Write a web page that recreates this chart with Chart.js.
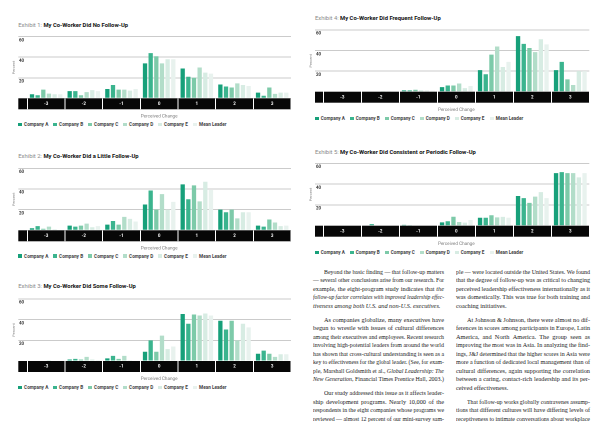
<!DOCTYPE html>
<html><head><meta charset="utf-8">
<script src="https://cdn.jsdelivr.net/npm/chart.js@4.4.1/dist/chart.umd.min.js"></script>
<style>
html,body{margin:0;padding:0;background:#fff;}
body{width:600px;height:424px;position:relative;overflow:hidden;font-family:Roboto,"DejaVu Sans",sans-serif;}
canvas{position:absolute;}
.title{position:absolute;font-size:5.85px;line-height:7px;white-space:nowrap;color:#111;font-weight:700;}
.title .ex{color:#8a8a8a;font-weight:400;}
.legend .it{position:absolute;white-space:nowrap;font-size:4.7px;line-height:6px;height:6px;font-weight:700;color:#444;}
.legend .sw{display:inline-block;width:3.6px;height:3.6px;vertical-align:middle;margin-right:2.2px;position:relative;top:-0.4px;}
.col{position:absolute;font-family:"Liberation Serif",serif;font-size:6.3px;color:#1a1a1a;}
.ln{position:absolute;left:0;display:flex;white-space:nowrap;column-gap:1.5px;transform-origin:0 50%;}
.ln span{display:block;}
.ln .i{font-style:italic;}
</style>
</head><body>
<script>
// ---------- data ----------
const categories = ['-3','-2','-1','0','1','2','3'];
const seriesNames = ['Company A','Company B','Company C','Company D','Company E','Mean Leader'];
const yTicks = [20, 40, 60];

// Exhibit 1: My Co-Worker Did No Follow-Up
const ex1CompanyA   = [4, 7, 9, 34, 29, 13.5, 5.5];
const ex1CompanyB   = [3, 7, 13, 44, 21, 11.5, 2.5];
const ex1CompanyC   = [8.5, 3, 8.5, 41, 20, 10.5, 10.5];
const ex1CompanyD   = [4.5, 6, 8.5, 34, 30, 14.5, 4.3];
const ex1CompanyE   = [4, 8, 7.5, 38, 25, 13, 5.5];
const ex1MeanLeader = [4, 7, 9, 38, 24, 12, 5.5];

// Exhibit 2: My Co-Worker Did a Little Follow-Up
const ex2CompanyA   = [2, 4.5, 5.5, 25, 44.5, 20, 4.5];
const ex2CompanyB   = [4, 3.5, 9, 38.5, 30, 17.5, 3.5];
const ex2CompanyC   = [1.5, 4.5, 5.5, 20, 43.5, 20, 10.5];
const ex2CompanyD   = [3.5, 6.5, 13, 35, 28, 11.5, 7.5];
const ex2CompanyE   = [1, 3, 11, 20, 47, 17.5, 4];
const ex2MeanLeader = [0.5, 4, 8.5, 27.5, 39, 17.5, 4.5];

// Exhibit 3: My Co-Worker Did Some Follow-Up
const ex3CompanyA   = [0, 1.5, 2.5, 9, 45.5, 39, 7];
const ex3CompanyB   = [0, 2, 5, 20, 36, 30.5, 10];
const ex3CompanyC   = [0, 1.5, 2, 9, 45, 39, 7];
const ex3CompanyD   = [0.3, 4, 5, 24.5, 44, 20, 4];
const ex3CompanyE   = [0.5, 1.5, 0.3, 11.5, 46, 36, 6.5];
const ex3MeanLeader = [0.5, 1, 0, 14, 44, 32.5, 6.5];

// Exhibit 4: My Co-Worker Did Frequent Follow-Up
const ex4CompanyA   = [0, 0, 1.3, 4.5, 21, 54, 21];
const ex4CompanyB   = [0, 0, 1.3, 6, 17, 46.5, 29];
const ex4CompanyC   = [0, 0, 1.9, 6, 36, 42.5, 12];
const ex4CompanyD   = [0, 0.5, 1, 8, 44, 38.5, 6.5];
const ex4CompanyE   = [0, 0.5, 1, 3.5, 24, 51, 20];
const ex4MeanLeader = [0, 0, 1, 5.5, 29, 46, 20];

// Exhibit 5: My Co-Worker Did Consistent or Periodic Follow-Up
const ex5CompanyA   = [0, 0, 0.8, 3.2, 7.7, 28.5, 50.5];
const ex5CompanyB   = [0, 1.5, 0.3, 4.3, 7.7, 26.5, 51.5];
const ex5CompanyC   = [0, 0, 0, 8.6, 10, 22, 50.5];
const ex5CompanyD   = [0, 0, 0, 3.5, 8, 28, 50.5];
const ex5CompanyE   = [0, 0, 0, 3, 8.5, 32.3, 46.5];
const ex5MeanLeader = [0, 0, 0, 5.5, 7.7, 26.5, 50.5];

// ---------- styling / layout ----------
const colors = ['#17a07a','#3bb48e','#7dcaa9','#b2ddc9','#d7ece3','#e8f2ee'];
const exhibits = [
  {num:1, title:'My Co-Worker Did No Follow-Up', series:[ex1CompanyA,ex1CompanyB,ex1CompanyC,ex1CompanyD,ex1CompanyE,ex1MeanLeader],
   g:{cx:0, gx:18.3, cl:27.3, cr:291, top:36.7, base:98.3, titleY:25, legY:125, pctX:14, labX:19}},
  {num:2, title:'My Co-Worker Did a Little Follow-Up', series:[ex2CompanyA,ex2CompanyB,ex2CompanyC,ex2CompanyD,ex2CompanyE,ex2MeanLeader],
   g:{cx:0, gx:18.3, cl:27.3, cr:291, top:168.3, base:230.3, titleY:156, legY:256.7, pctX:14, labX:19}},
  {num:3, title:'My Co-Worker Did Some Follow-Up', series:[ex3CompanyA,ex3CompanyB,ex3CompanyC,ex3CompanyD,ex3CompanyE,ex3MeanLeader],
   g:{cx:0, gx:18.3, cl:27.3, cr:291, top:299, base:361, titleY:286, legY:388, pctX:14, labX:19}},
  {num:4, title:'My Co-Worker Did Frequent Follow-Up', series:[ex4CompanyA,ex4CompanyB,ex4CompanyC,ex4CompanyD,ex4CompanyE,ex4MeanLeader],
   g:{cx:300, gx:315, cl:323.3, cr:589.3, top:30, base:91.7, titleY:18.3, legY:119, pctX:311, labX:316}},
  {num:5, title:'My Co-Worker Did Consistent or Periodic Follow-Up', series:[ex5CompanyA,ex5CompanyB,ex5CompanyC,ex5CompanyD,ex5CompanyE,ex5MeanLeader],
   g:{cx:300, gx:315, cl:323.3, cr:589.3, top:163.3, base:225.7, titleY:152.7, legY:253, pctX:311, labX:316}}
];

Chart.defaults.font.family = 'Roboto';

const bandPlugin = {
  id: 'band',
  beforeDraw(chart, args, opts) {
    const {ctx, chartArea: a} = chart;
    ctx.save();
    ctx.fillStyle = '#070707';
    ctx.fillRect(opts.x0, a.bottom, a.right - opts.x0, opts.h);
    ctx.restore();
  }
};

const XH = 20.7;       // x-axis box height (band + axis title)
const BAND = 11;
const TICKFONT = 4.5;

exhibits.forEach(ex => {
  const g = ex.g;
  const W = 300;
  const cTop = Math.floor(g.top - 3);
  const H = Math.ceil(g.base + XH + 1 - cTop);
  const pt = g.top - cTop;
  const pb = cTop + H - g.base - XH;
  const pctLH = 4 * 1.2;
  const pl = g.pctX - g.cx - pctLH / 2;
  const yw = g.cl - g.cx - pl;
  const pr = g.cx + W - g.cr;

  const t = document.createElement('div');
  t.className = 'title';
  t.style.left = g.gx + 'px';
  t.style.top = (g.titleY - 3.5) + 'px';
  t.innerHTML = '<span class="ex">Exhibit ' + ex.num + ': </span>' + ex.title;
  document.body.appendChild(t);

  const cv = document.createElement('canvas');
  cv.width = W; cv.height = H;
  cv.style.left = g.cx + 'px';
  cv.style.top = cTop + 'px';
  cv.style.width = W + 'px'; cv.style.height = H + 'px';
  document.body.appendChild(cv);

  const lineH = TICKFONT * 1.2;
  const chart = new Chart(cv, {
    type: 'bar',
    data: {
      labels: categories,
      datasets: seriesNames.map((n, i) => ({
        label: n, data: ex.series[i], backgroundColor: colors[i], borderWidth: 0,
        categoryPercentage: 0.9, barPercentage: 0.76
      }))
    },
    options: {
      responsive: false, animation: false, devicePixelRatio: 2,
      layout: {padding: {left: pl, right: pr, top: pt, bottom: pb}},
      plugins: {legend: {display: false}, tooltip: {enabled: false}, band: {x0: g.gx - g.cx, h: BAND}},
      scales: {
        x: {
          grid: {offset: true, drawOnChartArea: false, drawTicks: true, tickLength: BAND, color: '#ffffff', lineWidth: 1},
          border: {display: false},
          ticks: {color: '#ffffff', font: {size: TICKFONT, weight: 'bold'}, padding: 5.5 - BAND - lineH / 2, maxRotation: 0, autoSkip: false},
          title: {display: true, text: 'Perceived Change', color: '#7a7a7a', font: {size: 4.6, lineHeight: 1.2}, padding: 0},
          afterFit(s) { s.height = XH; }
        },
        y: {
          min: 0, max: 60,
          afterBuildTicks(s) { s.ticks = [0].concat(yTicks).map(v => ({value: v})); },
          ticks: {mirror: true, padding: g.labX - g.cl, labelOffset: 3.6, color: '#333', font: {size: 4.4, weight: 'bold'},
                  callback: v => v === 0 ? '' : String(v)},
          grid: {color: c => (c.tick && c.tick.value === 0) ? 'rgba(0,0,0,0)' : '#cbcbcb', lineWidth: 1,
                 drawTicks: true, tickLength: g.cl - g.gx},
          border: {display: false},
          title: {display: true, text: 'Percent', color: '#8a8a8a', font: {size: 4, lineHeight: 1.2}, padding: 0},
          afterFit(s) { s.width = yw; }
        }
      }
    },
    plugins: [bandPlugin]
  });

  const leg = document.createElement('div');
  leg.className = 'legend';
  chart.data.datasets.forEach((ds, i) => {
    const it = document.createElement('div');
    it.className = 'it';
    it.style.left = (g.gx + i * 35) + 'px';
    it.style.top = (g.legY - 3) + 'px';
    it.innerHTML = '<span class="sw" style="background:' + ds.backgroundColor + '"></span>' + ds.label;
    leg.appendChild(it);
  });
  document.body.appendChild(leg);
});

// ---------- article text ----------
const leftCol = [
  {t:'Beyond the basic finding — that follow-up matters', ind:true},
  {t:'— several other conclusions arise from our research. For'},
  {t:'example, the eight-program study indicates that *the*'},
  {t:'*follow-up factor correlates with improved leadership effec-*'},
  {t:'*tiveness among both U.S. and non-U.S. executives.*', last:true},
  {t:'As companies globalize, many executives have', ind:true, gap:true},
  {t:'begun to wrestle with issues of cultural differences'},
  {t:'among their executives and employees. Recent research'},
  {t:'involving high-potential leaders from around the world'},
  {t:'has shown that cross-cultural understanding is seen as a'},
  {t:'key to effectiveness for the global leader. (See, for exam-'},
  {t:'ple, Marshall Goldsmith et al., *Global Leadership: The*'},
  {t:'*New Generation,* Financial Times Prentice Hall, 2003.)', last:true},
  {t:'Our study addressed this issue as it affects leader-', ind:true, gap:true},
  {t:'ship development programs. Nearly 10,000 of the'},
  {t:'respondents in the eight companies whose programs we'},
  {t:'reviewed — almost 12 percent of our mini-survey sam-'}
];
const rightCol = [
  {t:'ple — were located outside the United States. We found'},
  {t:'that the degree of follow-up was as critical to changing'},
  {t:'perceived leadership effectiveness internationally as it'},
  {t:'was domestically. This was true for both training and'},
  {t:'coaching initiatives.', last:true},
  {t:'At Johnson & Johnson, there were almost no dif-', ind:true, gap:true},
  {t:'ferences in scores among participants in Europe, Latin'},
  {t:'America, and North America. The group seen as'},
  {t:'improving the most was in Asia. In analyzing the find-'},
  {t:'ings, J&J determined that the higher scores in Asia were'},
  {t:'more a function of dedicated local management than of'},
  {t:'cultural differences, again supporting the correlation'},
  {t:'between a caring, contact-rich leadership and its per-'},
  {t:'ceived effectiveness.', last:true},
  {t:'That follow-up works globally contravenes assump-', ind:true, gap:true},
  {t:'tions that different cultures will have differing levels of'},
  {t:'receptiveness to intimate conversations about workplace'}
];

function buildCol(lines, x, w, y0, L, gap) {
  const col = document.createElement('div');
  col.className = 'col';
  col.style.left = x + 'px';
  col.style.top = '0px';
  col.style.width = w + 'px';
  document.body.appendChild(col);
  let gaps = 0;
  lines.forEach((ln, idx) => {
    if (ln.gap) gaps++;
    const top = y0 + idx * L + gaps * gap;
    const d = document.createElement('div');
    d.className = 'ln';
    const indent = ln.ind ? 11 : 0;
    d.style.top = (top - L / 2) + 'px';
    d.style.height = L + 'px';
    d.style.lineHeight = L + 'px';
    d.style.left = indent + 'px';
    let it = false;
    ln.t.split(' ').forEach(wd => {
      let s = wd;
      if (s.startsWith('*')) { it = true; s = s.slice(1); }
      let endIt = false;
      if (s.endsWith('*')) { endIt = true; s = s.slice(0, -1); }
      const sp = document.createElement('span');
      if (it) sp.className = 'i';
      sp.textContent = s;
      d.appendChild(sp);
      if (endIt) it = false;
    });
    col.appendChild(d);
    const avail = w - indent;
    const nat = d.getBoundingClientRect().width;
    if (nat > avail) {
      d.style.transform = 'scaleX(' + (avail / nat) + ')';
    } else if (!ln.last) {
      d.style.width = avail + 'px';
      d.style.justifyContent = 'space-between';
    }
  });
}
buildCol(leftCol, 313, 131, 272, 8.55, 5.1);
buildCol(rightCol, 456, 134, 272, 8.55, 5.1);
</script>
</body></html>
